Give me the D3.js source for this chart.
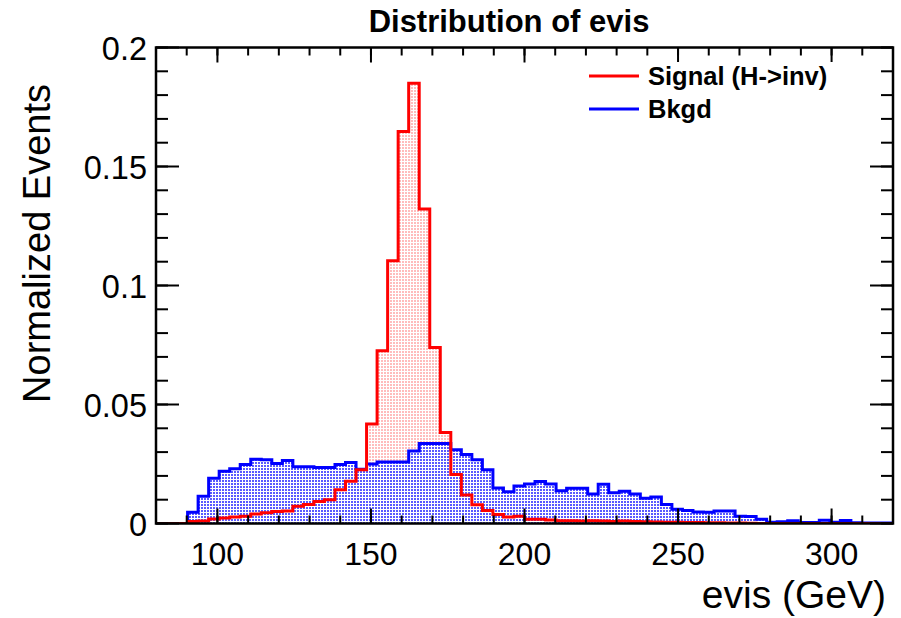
<!DOCTYPE html>
<html>
<head>
<meta charset="utf-8">
<script src="https://cdn.jsdelivr.net/npm/d3@7"></script>
<style>
  body { margin: 0; background: #fff; }
  svg { display: block; }
  text { font-family: "Liberation Sans", Arial, Helvetica, sans-serif; fill: #000; }
</style>
</head>
<body>
<svg id="chart" width="901" height="618"></svg>
<script>
// Histogram binning: 70 equal bins between 80 and 320 GeV
const binLow = 80, binHigh = 320, nBins = 70;

// Normalized contents per bin, signal (H->inv)
const signal = [
  0, 0, 0, 0.0008, 0.001, 0.0019, 0.0023, 0.0027, 0.003, 0.004,
  0.0045, 0.005, 0.0053, 0.0072, 0.008, 0.0092, 0.01, 0.0142, 0.0178, 0.0226,
  0.0418, 0.0726, 0.1104, 0.1647, 0.185, 0.1321, 0.074, 0.0382, 0.0206, 0.012,
  0.0079, 0.0055, 0.0038, 0.0027, 0.003, 0.0018, 0.0018, 0.0015, 0.0012, 0.0012,
  0.001, 0.0012, 0.001, 0.0008, 0.001, 0.0008, 0.0007, 0.0006, 0.0005, 0.0005,
  0.0004, 0.0004, 0.0003, 0.0003, 0.0002, 0.0002, 0.0001, 0, 0, 0,
  0, 0, 0, 0, 0, 0, 0, 0, 0, 0
];

// Normalized contents per bin, background
const background = [
  0, 0, 0, 0.0047, 0.0115, 0.019, 0.022, 0.023, 0.0248, 0.027,
  0.0268, 0.0252, 0.0265, 0.0238, 0.0238, 0.0235, 0.0235, 0.0248, 0.0256, 0.0228,
  0.025, 0.0258, 0.0258, 0.0258, 0.0305, 0.0336, 0.0336, 0.0336, 0.031, 0.029,
  0.0268, 0.0226, 0.0149, 0.0133, 0.0158, 0.0166, 0.0176, 0.0166, 0.0138, 0.0148,
  0.0148, 0.0124, 0.0165, 0.0129, 0.0136, 0.0124, 0.0106, 0.0111, 0.008, 0.006,
  0.0055, 0.0048, 0.0047, 0.0053, 0.0052, 0.003, 0.0029, 0.0018, 0.0005, 0.0007,
  0.0012, 0.0004, 0.0004, 0.0014, 0.0005, 0.0013, 0.0003, 0.0002, 0.0002, 0.0002
];

const xTickValues = [100, 150, 200, 250, 300];
const xTickLabels = ["100", "150", "200", "250", "300"];
const yTickValues = [0, 0.05, 0.1, 0.15, 0.2];
const yTickLabels = ["0", "0.05", "0.1", "0.15", "0.2"];
const seriesNames = ["Signal (H->inv)", "Bkgd"];
const seriesColors = ["#ff0000", "#0000ff"];

const svg = d3.select("#chart");
const plot = { left: 156, right: 893, top: 47.5, bottom: 523.5 };

const x = d3.scaleLinear().domain([binLow, binHigh]).range([plot.left, plot.right]);
const y = d3.scaleLinear().domain([0, 0.2]).range([plot.bottom, plot.top]);

// Dotted fill patterns (transparent background, same grid so overlapping dots coincide)
const defs = svg.append("defs");
const pRed = defs.append("pattern").attr("id", "fillSig")
  .attr("patternUnits", "userSpaceOnUse").attr("width", 3).attr("height", 3);
pRed.append("rect").attr("x", 0).attr("y", 0).attr("width", 2).attr("height", 2)
  .attr("fill", "#ffbcbc").attr("shape-rendering", "crispEdges");
const pBlue = defs.append("pattern").attr("id", "fillBkg")
  .attr("patternUnits", "userSpaceOnUse").attr("width", 3).attr("height", 3);
pBlue.append("rect").attr("x", 0).attr("y", 0).attr("width", 2).attr("height", 2)
  .attr("fill", "#5a5aff").attr("shape-rendering", "crispEdges");

defs.append("clipPath").attr("id", "plotClip").append("rect")
  .attr("x", plot.left).attr("y", plot.top)
  .attr("width", plot.right - plot.left).attr("height", plot.bottom - plot.top);

// Build step points from bin edges
const binWidth = (binHigh - binLow) / nBins;
function stepPoints(vals) {
  const pts = vals.map((v, i) => ({ e: binLow + i * binWidth, v }));
  pts.push({ e: binHigh, v: vals[vals.length - 1] });
  return pts;
}

const area = d3.area().curve(d3.curveStepAfter)
  .x(d => x(d.e)).y0(y(0)).y1(d => y(d.v));
const line = d3.line().curve(d3.curveStepAfter)
  .x(d => x(d.e)).y(d => y(d.v));

const g = svg.append("g").attr("clip-path", "url(#plotClip)");
const sigPts = stepPoints(signal);
const bkgPts = stepPoints(background);

g.append("path").datum(sigPts).attr("d", area).attr("fill", "url(#fillSig)");
g.append("path").datum(bkgPts).attr("d", area).attr("fill", "url(#fillBkg)");
g.append("path").datum(bkgPts).attr("d", line)
  .attr("fill", "none").attr("stroke", seriesColors[1]).attr("stroke-width", 3);
g.append("path").datum(sigPts).attr("d", line)
  .attr("fill", "none").attr("stroke", seriesColors[0]).attr("stroke-width", 3);

// Axes with inward ticks on all four sides
const xMinor = d3.range(binLow, binHigh + 0.1, 10);
const yMinor = d3.range(0, 0.2001, 0.01);

function drawXTicks(yPos, dir) {
  const a = svg.append("g");
  a.selectAll("line.mn").data(xMinor).join("line")
    .attr("x1", d => x(d)).attr("x2", d => x(d))
    .attr("y1", yPos).attr("y2", yPos + dir * 8)
    .attr("stroke", "#000").attr("stroke-width", 2);
  a.selectAll("line.mj").data(xTickValues).join("line")
    .attr("x1", d => x(d)).attr("x2", d => x(d))
    .attr("y1", yPos).attr("y2", yPos + dir * 15)
    .attr("stroke", "#000").attr("stroke-width", 2);
}
function drawYTicks(xPos, dir) {
  const a = svg.append("g");
  a.selectAll("line.mn").data(yMinor).join("line")
    .attr("y1", d => y(d)).attr("y2", d => y(d))
    .attr("x1", xPos).attr("x2", xPos + dir * 12)
    .attr("stroke", "#000").attr("stroke-width", 2);
  a.selectAll("line.mj").data(yTickValues).join("line")
    .attr("y1", d => y(d)).attr("y2", d => y(d))
    .attr("x1", xPos).attr("x2", xPos + dir * 23)
    .attr("stroke", "#000").attr("stroke-width", 2);
}
drawXTicks(plot.bottom, -1);
drawXTicks(plot.top, 1);
drawYTicks(plot.left, 1);
drawYTicks(plot.right, -1);

// Frame
svg.append("rect")
  .attr("x", plot.left).attr("y", plot.top)
  .attr("width", plot.right - plot.left).attr("height", plot.bottom - plot.top)
  .attr("fill", "none").attr("stroke", "#000").attr("stroke-width", 2.5);

// Tick labels
svg.append("g").selectAll("text").data(xTickValues).join("text")
  .attr("x", d => x(d)).attr("y", 565)
  .attr("text-anchor", "middle").attr("font-size", 32)
  .text((d, i) => xTickLabels[i]);
svg.append("g").selectAll("text").data(yTickValues).join("text")
  .attr("x", 147).attr("y", d => y(d) + 12)
  .attr("text-anchor", "end").attr("font-size", 32.5)
  .text((d, i) => yTickLabels[i]);

// Axis titles
svg.append("text").attr("x", 886).attr("y", 608)
  .attr("text-anchor", "end").attr("font-size", 39).text("evis (GeV)");
svg.append("text")
  .attr("transform", "translate(50,84) rotate(-90)")
  .attr("text-anchor", "end").attr("font-size", 38).text("Normalized Events");

// Title
svg.append("text").attr("x", 509).attr("y", 32)
  .attr("text-anchor", "middle").attr("font-size", 31).attr("font-weight", "bold")
  .text("Distribution of evis");

// Legend
const leg = svg.append("g");
leg.append("rect").attr("x", 565).attr("y", 62).attr("width", 295).attr("height", 66).attr("fill", "#fff");
seriesNames.forEach((name, i) => {
  const ly = 76 + i * 33;
  leg.append("line").attr("x1", 589).attr("x2", 639).attr("y1", ly).attr("y2", ly)
    .attr("stroke", seriesColors[i]).attr("stroke-width", 3);
  leg.append("text").attr("x", 648).attr("y", ly + 9)
    .attr("font-size", 25.5).attr("font-weight", "bold").text(name);
});
</script>
</body>
</html>
